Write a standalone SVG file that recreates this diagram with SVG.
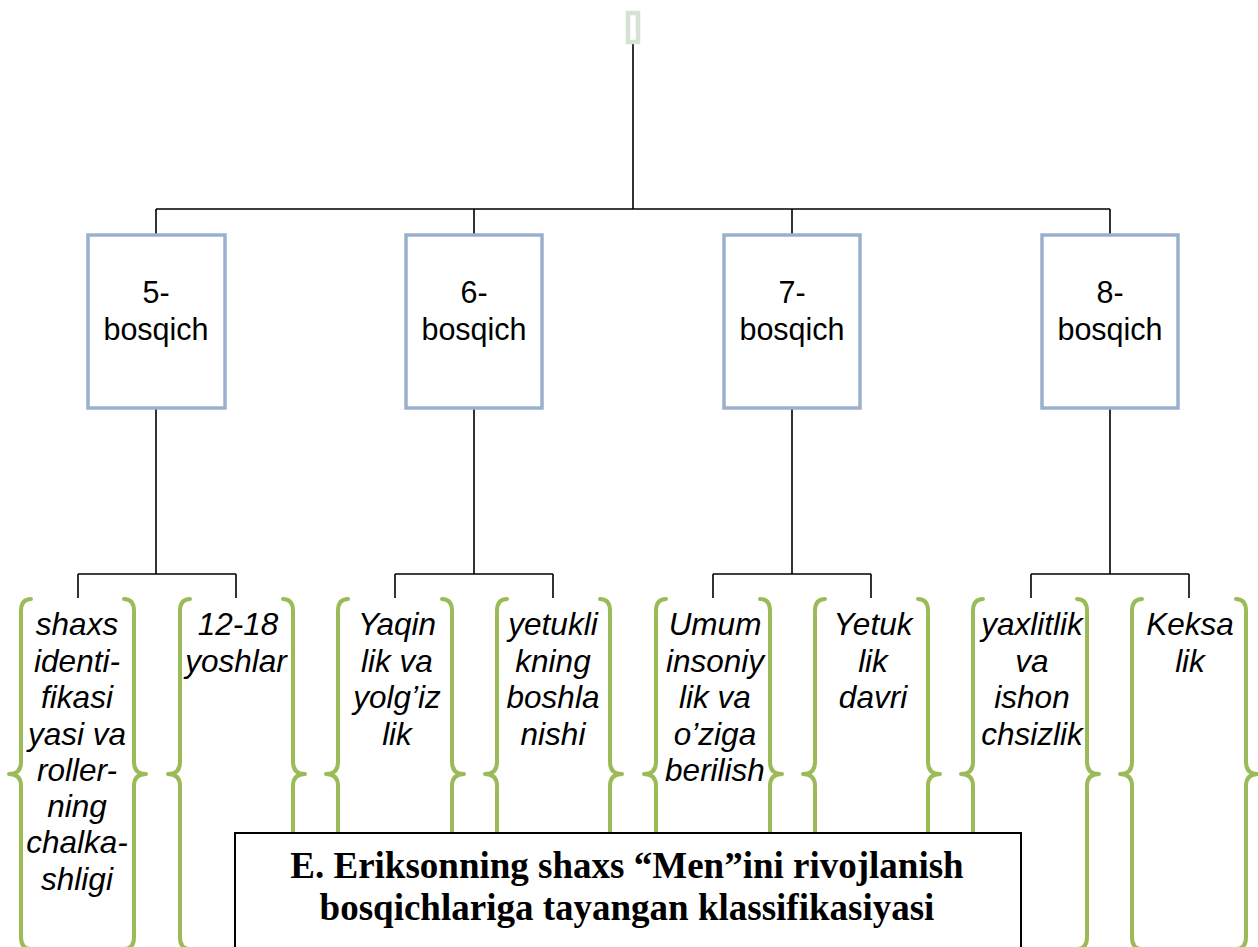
<svg xmlns="http://www.w3.org/2000/svg" width="1258" height="947" viewBox="0 0 1258 947">
<style>
.conn{fill:none;stroke:#000;stroke-width:1.6}
.box{fill:#fff;stroke:#9bb0cc;stroke-width:3.5}
.lbl{font-family:"Liberation Sans",Arial,sans-serif;font-size:30.5px;fill:#000;text-anchor:middle}
.it{font-family:"Liberation Sans",Arial,sans-serif;font-size:31.5px;font-style:italic;fill:#000;text-anchor:middle}
.br{fill:none;stroke:#9bbb59;stroke-width:4;stroke-linecap:round;stroke-linejoin:round}
.title{font-family:"Liberation Serif","Times New Roman",serif;font-size:37px;font-weight:bold;fill:#000;text-anchor:middle}
</style>
<defs>
<path id="lb" d="M10,0 Q0,0 0,12 L0,163 Q0,175 -12,175 Q0,175 0,187 L0,338 Q0,350 10,350"/>
<path id="rb" d="M-10,0 Q0,0 0,12 L0,163 Q0,175 12,175 Q0,175 0,187 L0,338 Q0,350 -10,350"/>
</defs>
<rect width="1258" height="947" fill="#fff"/>
<g id="connectors">
<path class="conn" d="M633,44 V209 M156,209 H1110 M156,209 V235 M474,209 V235 M792,209 V235 M1110,209 V235"/>
<path class="conn" d="M156,408 V574 M78,574 H236 M78,574 V598 M236,574 V598"/>
<path class="conn" d="M474,408 V574 M395,574 H553 M395,574 V598 M553,574 V598"/>
<path class="conn" d="M792,408 V574 M713,574 H871 M713,574 V598 M871,574 V598"/>
<path class="conn" d="M1110,408 V574 M1031,574 H1189 M1031,574 V598 M1189,574 V598"/>
</g>
<g id="root"><rect x="628" y="13" width="10" height="29" fill="#fff" stroke="#d5e3d3" stroke-width="4.5"/></g>
<g id="stage5"><rect class="box" x="88" y="235" width="137" height="173"/><text class="lbl" x="156" y="303">5-</text><text class="lbl" x="156" y="340">bosqich</text></g>
<g id="stage6"><rect class="box" x="406" y="235" width="136" height="173"/><text class="lbl" x="474" y="303">6-</text><text class="lbl" x="474" y="340">bosqich</text></g>
<g id="stage7"><rect class="box" x="724" y="235" width="136" height="173"/><text class="lbl" x="792" y="303">7-</text><text class="lbl" x="792" y="340">bosqich</text></g>
<g id="stage8"><rect class="box" x="1042" y="235" width="136" height="173"/><text class="lbl" x="1110" y="303">8-</text><text class="lbl" x="1110" y="340">bosqich</text></g>
<g id="c1">
<use href="#lb" class="br" x="21" y="599"/><use href="#rb" class="br" x="134" y="599"/>
<text class="it"><tspan x="77" y="635">shaxs</tspan><tspan x="77" y="672">identi-</tspan><tspan x="77" y="708">fikasi</tspan><tspan x="77" y="745">yasi va</tspan><tspan x="77" y="781">roller-</tspan><tspan x="77" y="817">ning</tspan><tspan x="77" y="853">chalka-</tspan><tspan x="77" y="890">shligi</tspan></text>
</g>
<g id="c2">
<use href="#lb" class="br" x="180" y="599"/><use href="#rb" class="br" x="293" y="599"/>
<text class="it"><tspan x="238" y="635">12-18</tspan><tspan x="236" y="672">yoshlar</tspan></text>
</g>
<g id="c3">
<use href="#lb" class="br" x="338" y="599"/><use href="#rb" class="br" x="452" y="599"/>
<text class="it"><tspan x="397" y="635">Yaqin</tspan><tspan x="397" y="672">lik va</tspan><tspan x="397" y="708">yolg’iz</tspan><tspan x="397" y="745">lik</tspan></text>
</g>
<g id="c4">
<use href="#lb" class="br" x="497" y="599"/><use href="#rb" class="br" x="610" y="599"/>
<text class="it"><tspan x="553" y="635">yetukli</tspan><tspan x="553" y="672">kning</tspan><tspan x="553" y="708">boshla</tspan><tspan x="553" y="745">nishi</tspan></text>
</g>
<g id="c5">
<use href="#lb" class="br" x="656" y="599"/><use href="#rb" class="br" x="770" y="599"/>
<text class="it"><tspan x="715" y="635">Umum</tspan><tspan x="715" y="672">insoniy</tspan><tspan x="715" y="708">lik va</tspan><tspan x="715" y="745">o’ziga</tspan><tspan x="715" y="781">berilish</tspan></text>
</g>
<g id="c6">
<use href="#lb" class="br" x="815" y="599"/><use href="#rb" class="br" x="928" y="599"/>
<text class="it"><tspan x="873" y="635">Yetuk</tspan><tspan x="873" y="672">lik</tspan><tspan x="873" y="708">davri</tspan></text>
</g>
<g id="c7">
<use href="#lb" class="br" x="973" y="599"/><use href="#rb" class="br" x="1087" y="599"/>
<text class="it"><tspan x="1032" y="635">yaxlitlik</tspan><tspan x="1032" y="672">va</tspan><tspan x="1032" y="708">ishon</tspan><tspan x="1032" y="745">chsizlik</tspan></text>
</g>
<g id="c8">
<use href="#lb" class="br" x="1132" y="599"/><use href="#rb" class="br" x="1246" y="599"/>
<text class="it"><tspan x="1190" y="635">Keksa</tspan><tspan x="1190" y="672">lik</tspan></text>
</g>
<g id="titlebox">
<rect x="235" y="833" width="786" height="130" fill="#fff" stroke="#000" stroke-width="2"/>
<text class="title" x="627" y="878">E. Eriksonning shaxs “Men”ini rivojlanish</text>
<text class="title" x="627" y="920">bosqichlariga tayangan klassifikasiyasi</text>
</g>
</svg>
